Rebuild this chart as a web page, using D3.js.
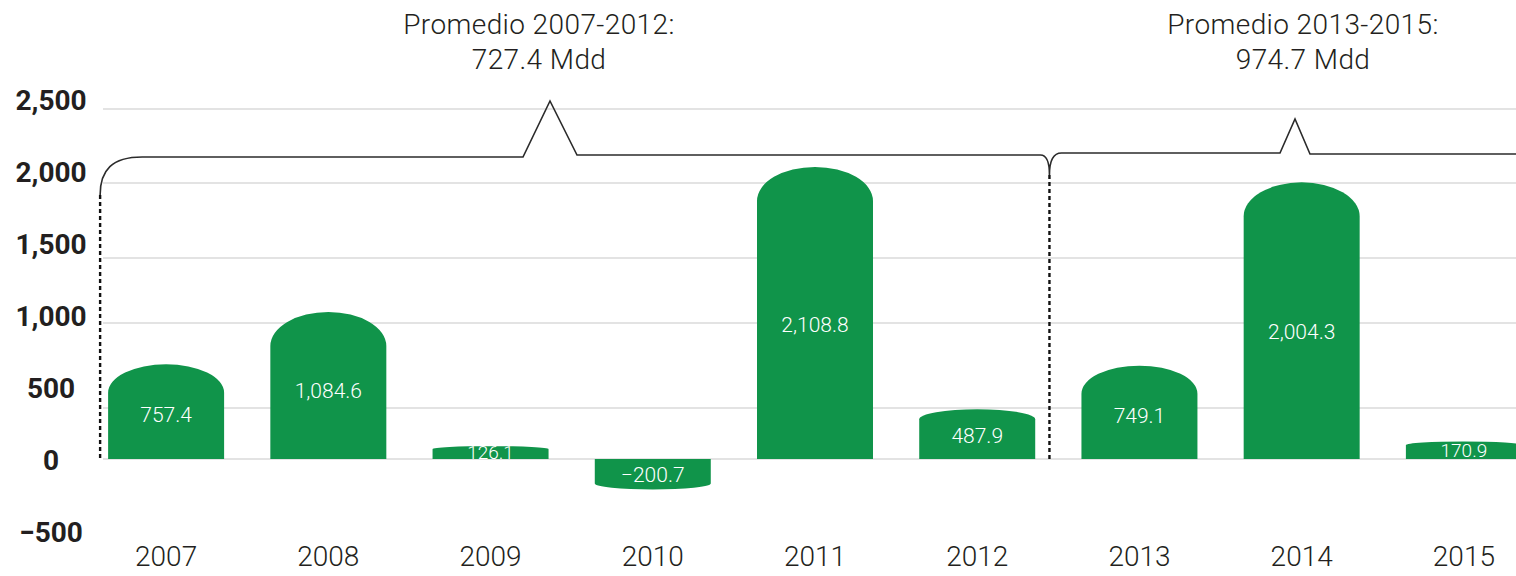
<!DOCTYPE html>
<html>
<head>
<meta charset="utf-8">
<script src="https://cdn.jsdelivr.net/npm/d3@7"></script>
<style>
  body { margin: 0; background: #fff; }
  svg { display: block; }
  text { font-family: Roboto, "Open Sans", sans-serif; }
</style>
</head>
<body>
<div id="content"></div>
<script>
// data
var years = ["2007", "2008", "2009", "2010", "2011", "2012", "2013", "2014", "2015"];
var values = [757.4, 1084.6, 126.1, -200.7, 2108.8, 487.9, 749.1, 2004.3, 170.9];
var tickValues = [2500, 2000, 1500, 1000, 500, 0, -500];
var groupLabels = [["Promedio 2007-2012:", "727.4 Mdd"], ["Promedio 2013-2015:", "974.7 Mdd"]];

var width = 1516, height = 576;
var green = "#10944a";
var fmt = d3.format(",.1f");

var svg = d3.select("#content").append("svg")
  .attr("width", width)
  .attr("height", height);

var x = d3.scaleBand()
  .domain(years)
  .range([85, 1545])
  .paddingInner(0.285)
  .paddingOuter(0.1425);

// the drawing's grid is not evenly spaced, so the scale follows it piecewise
var y = d3.scaleLinear()
  .domain([-500, 0, 500, 1000, 1500, 2000, 2500])
  .range([535, 459, 408, 323, 258, 183, 109]);

// tick labels sit on their own even spacing
var yLab = d3.scaleLinear()
  .domain([-500, 2500])
  .range([532, 100]);

// gridlines
svg.selectAll(".grid")
  .data(tickValues.filter(function(d){ return d >= 0; }))
  .enter()
  .append("line")
  .attr("x1", 103)
  .attr("x2", width)
  .attr("y1", function(d){ return y(d); })
  .attr("y2", function(d){ return y(d); })
  .attr("stroke", "#dadada")
  .attr("stroke-width", 1.6);

// y tick labels
svg.selectAll(".ylab")
  .data(tickValues)
  .enter()
  .append("text")
  .attr("x", 51)
  .attr("y", function(d){ return yLab(d); })
  .attr("dy", "0.36em")
  .attr("text-anchor", "middle")
  .attr("font-size", 28)
  .attr("font-weight", 700)
  .attr("fill", "#231f20")
  .text(function(d){ return d3.format(",")(d); });

// bar with an elliptical cap on the value end
function barPath(d, i){
  var x0 = x(years[i]), w = x.bandwidth(), x1 = x0 + w;
  var y0 = y(0), yv = y(d);
  var h = Math.abs(y0 - yv);
  var c = Math.max(3, Math.min(h * 0.3, 34));
  if (h < 60) c = Math.max(3, h * 0.2);
  if (d >= 0) {
    return "M" + x0 + "," + y0 + "L" + x0 + "," + (yv + c) +
      "A" + (w / 2) + "," + c + " 0 0 1 " + x1 + "," + (yv + c) +
      "L" + x1 + "," + y0 + "Z";
  }
  return "M" + x0 + "," + y0 + "L" + x0 + "," + (yv - c) +
    "A" + (w / 2) + "," + c + " 0 0 0 " + x1 + "," + (yv - c) +
    "L" + x1 + "," + y0 + "Z";
}

svg.selectAll(".bar")
  .data(values)
  .enter()
  .append("path")
  .attr("d", barPath)
  .attr("fill", green);

// value labels centred in the bar; short bars get a slightly smaller size
function isShort(d){ return d > 0 && Math.abs(y(0) - y(d)) < 30; }

svg.selectAll(".val")
  .data(values)
  .enter()
  .append("text")
  .attr("x", function(d, i){ return x(years[i]) + x.bandwidth() / 2; })
  .attr("y", function(d){
    var mid = (y(0) + y(d)) / 2;
    if (isShort(d)) return mid + 6.8;
    return mid + Math.abs(y(0) - y(d)) * 0.04 + 7;
  })
  .attr("text-anchor", "middle")
  .attr("font-size", function(d){ return isShort(d) ? 19 : 21; })
  .attr("font-weight", 300)
  .attr("fill", "#fff")
  .text(function(d){ return fmt(d); });

// year labels
svg.selectAll(".year")
  .data(years)
  .enter()
  .append("text")
  .attr("x", function(d){ return x(d) + x.bandwidth() / 2; })
  .attr("y", 566)
  .attr("text-anchor", "middle")
  .attr("font-size", 28)
  .attr("font-weight", 300)
  .attr("fill", "#231f20")
  .text(function(d){ return d; });

// brackets for the two periods
var left = x("2007") - 8;
var split = x("2013") - 32;
var peak1 = 550, peak2 = 1295;
var bracket = d3.path();
bracket.moveTo(left, 195);
bracket.bezierCurveTo(left, 170, left + 12, 157, left + 42, 157);
bracket.lineTo(peak1 - 27, 157);
bracket.lineTo(peak1, 101);
bracket.lineTo(peak1 + 27, 155);
bracket.lineTo(split - 9, 155);
bracket.bezierCurveTo(split - 3, 155, split, 162, split, 175);
bracket.bezierCurveTo(split, 162, split + 3, 153, split + 12, 153);
bracket.lineTo(peak2 - 15, 153);
bracket.lineTo(peak2, 119);
bracket.lineTo(peak2 + 15, 154);
bracket.lineTo(width, 154);

svg.append("path")
  .attr("d", bracket.toString())
  .attr("fill", "none")
  .attr("stroke", "#2b2b2b")
  .attr("stroke-width", 1.6);

svg.selectAll(".divider")
  .data([[left, 195], [split, 175]])
  .enter()
  .append("line")
  .attr("x1", function(d){ return d[0]; })
  .attr("x2", function(d){ return d[0]; })
  .attr("y1", function(d){ return d[1]; })
  .attr("y2", y(0))
  .attr("stroke", "#111")
  .attr("stroke-width", 2.4)
  .attr("stroke-dasharray", "4,3");

// averages
var notes = svg.selectAll(".note")
  .data(groupLabels)
  .enter()
  .append("text")
  .attr("x", function(d, i){ return i === 0 ? 539 : 1303; })
  .attr("y", 34)
  .attr("text-anchor", "middle")
  .attr("font-size", 28)
  .attr("font-weight", 300)
  .attr("letter-spacing", 0.4)
  .attr("fill", "#231f20");

notes.selectAll("tspan")
  .data(function(d){ return d; })
  .enter()
  .append("tspan")
  .attr("x", function(){ return d3.select(this.parentNode).attr("x"); })
  .attr("dy", function(d, i){ return i === 0 ? 0 : 35; })
  .text(function(d){ return d; });
</script>
</body>
</html>
